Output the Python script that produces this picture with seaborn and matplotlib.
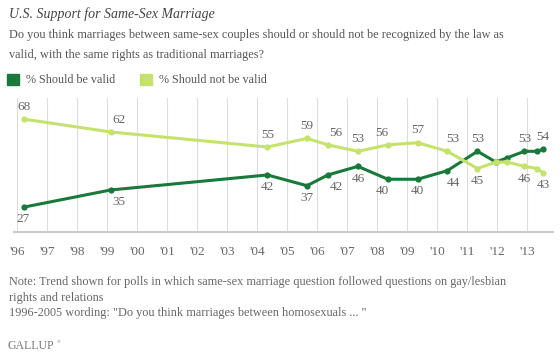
import pandas as pd
import seaborn as sns
import matplotlib.pyplot as plt
from matplotlib.patches import Patch

# poll dates and results (Gallup)
poll_dates = ["1996-03-15", "1999-02-08", "2004-05-02", "2005-08-28", "2006-05-08",
              "2007-05-10", "2008-05-08", "2009-05-07", "2010-05-03", "2011-05-05",
              "2011-12-15", "2012-05-03", "2012-11-26", "2013-05-02", "2013-07-10"]
should_be_valid = [27, 35, 42, 37, 42, 46, 40, 40, 44, 53, 48, 50, 53, 53, 54]
should_not_be_valid = [68, 62, 55, 59, 56, 53, 56, 57, 53, 45, 48, 48, 46, 45, 43]
labeled = [0, 1, 2, 3, 4, 5, 6, 7, 8, 9, 12, 14]
years = list(range(1996, 2014))
year_labels = ["'" + str(y)[2:] for y in years]

series_names = ["% Should be valid", "% Should not be valid"]
colors = {"% Should be valid": "#18793a", "% Should not be valid": "#c5e26d"}

dates = pd.to_datetime(poll_dates)
df = pd.concat([
    pd.DataFrame({"date": dates, "pct": should_be_valid, "series": series_names[0]}),
    pd.DataFrame({"date": dates, "pct": should_not_be_valid, "series": series_names[1]}),
])

sns.set_style("white")
plt.rcParams["font.family"] = ["Liberation Serif", "DejaVu Serif"]

W, H = 560, 356
fig = plt.figure(figsize=(W / 100, H / 100), dpi=100)
ax = fig.add_axes([14 / W, 1 - 231.7 / H, (553 - 14) / W, (231.7 - 98) / H])

sns.lineplot(data=df, x="date", y="pct", hue="series", palette=colors, ax=ax,
             marker="o", markersize=4.5, markeredgewidth=0, linewidth=2.2, legend=False)

ax.set_xlim(pd.Timestamp("1995-11-20"), pd.Timestamp("2013-11-10"))
ax.set_ylim(15.6, 77.8)
ax.set_xticks([pd.Timestamp(y, 1, 1) for y in years])
ax.set_xticklabels(year_labels, fontsize=9.5, color="#666666")
ax.set_yticks([])
ax.set_xlabel("")
ax.set_ylabel("")
ax.tick_params(axis="x", length=0, pad=10)
ax.grid(axis="x", color="#dddddd", linewidth=0.8)
ax.grid(axis="y", visible=False)
for s in ["top", "right", "left"]:
    ax.spines[s].set_visible(False)
ax.spines["bottom"].set_color("#cccccc")
ax.spines["bottom"].set_linewidth(1.5)

# data labels: higher series above, lower series below
nudge = {1: 6, 4: 6, 6: -4, 8: 4}
for i in labeled:
    a, b = should_be_valid[i], should_not_be_valid[i]
    dx = nudge.get(i, 0)
    hi, lo = (a, b) if a > b else (b, a)
    ax.annotate(str(hi), (dates[i], hi), xytext=(dx, 8.8), textcoords="offset points",
                ha="center", va="center", fontsize=9.5, color="#666666")
    ax.annotate(str(lo), (dates[i], lo), xytext=(dx, -8.8), textcoords="offset points",
                ha="center", va="center", fontsize=9.5, color="#666666")

# title, question, legend
fig.text(9 / W, 1 - 14 / H, "U.S. Support for Same-Sex Marriage", fontsize=10,
         style="italic", color="#444444", va="center")
fig.text(9 / W, 1 - 35 / H, "Do you think marriages between same-sex couples should or should not "
         "be recognized by the law as", fontsize=8.8, color="#555555", va="center")
fig.text(9 / W, 1 - 55 / H, "valid, with the same rights as traditional marriages?",
         fontsize=8.8, color="#555555", va="center")

handles = [Patch(color=colors[n], label=n) for n in series_names]
fig.legend(handles=handles, loc="center left", bbox_to_anchor=(7 / W, 1 - 80 / H),
           ncol=2, frameon=False, fontsize=8.7, handlelength=1.0, handleheight=1.0,
           handletextpad=0.6, columnspacing=2.0, borderpad=0, borderaxespad=0,
           labelcolor="#555555")

# notes and source
fig.text(9 / W, 1 - 282 / H, "Note: Trend shown for polls in which same-sex marriage question "
         "followed questions on gay/lesbian", fontsize=8.8, color="#666666", va="center")
fig.text(9 / W, 1 - 298 / H, "rights and relations", fontsize=8.8, color="#666666", va="center")
fig.text(9 / W, 1 - 313 / H, '1996-2005 wording: "Do you think marriages between homosexuals ... "',
         fontsize=8.8, color="#666666", va="center")
fig.text(7 / W, 1 - 346 / H, "GALLUP", fontsize=8.5, color="#777777", va="center")
fig.text(57 / W, 1 - 342 / H, "®", fontsize=3.5, color="#777777", va="center")

fig.savefig("out.png", dpi=100)
